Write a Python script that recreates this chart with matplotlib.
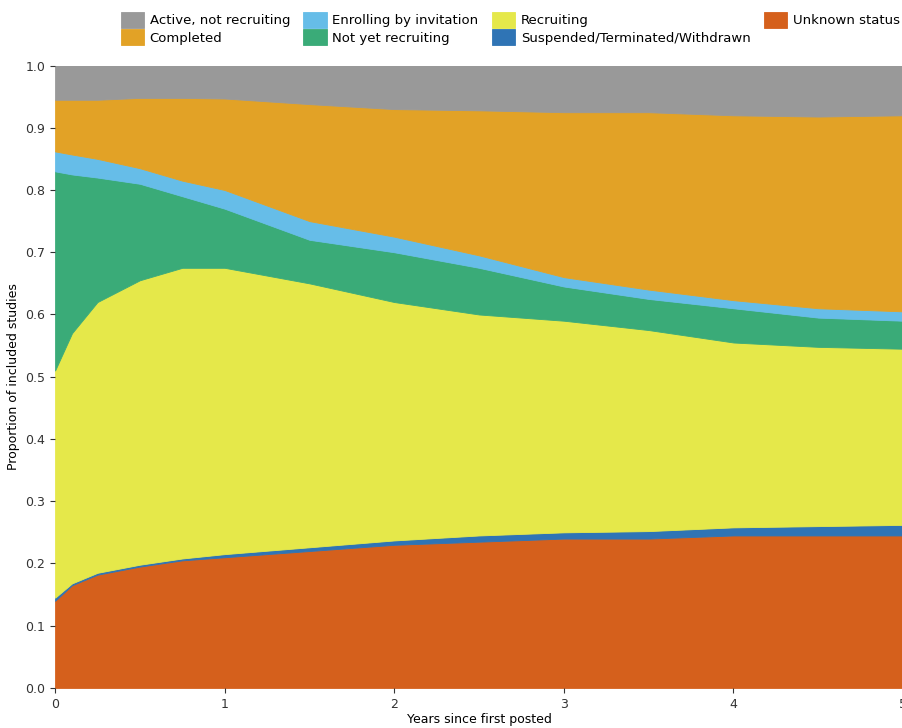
import numpy as np
import matplotlib.pyplot as plt

years = [0, 0.1, 0.25, 0.5, 0.75, 1, 1.5, 2, 2.5, 3, 3.5, 4, 4.5, 5]
# cumulative tops of each band
top_unknown = [0.14, 0.165, 0.182, 0.195, 0.205, 0.21, 0.22, 0.23, 0.235, 0.24, 0.24, 0.245, 0.245, 0.245]
top_suspended = [0.145, 0.168, 0.185, 0.198, 0.208, 0.215, 0.226, 0.237, 0.245, 0.25, 0.252, 0.258, 0.26, 0.262]
top_recruiting = [0.51, 0.57, 0.62, 0.655, 0.675, 0.675, 0.65, 0.62, 0.60, 0.59, 0.575, 0.555, 0.548, 0.545]
top_notyet = [0.83, 0.825, 0.82, 0.81, 0.79, 0.77, 0.72, 0.70, 0.675, 0.645, 0.625, 0.61, 0.595, 0.59]
top_enrolling = [0.862, 0.857, 0.85, 0.835, 0.815, 0.80, 0.75, 0.725, 0.695, 0.66, 0.64, 0.623, 0.61, 0.605]
top_completed = [0.945, 0.945, 0.945, 0.948, 0.948, 0.947, 0.938, 0.93, 0.928, 0.925, 0.925, 0.92, 0.918, 0.92]
top_active = [1.0] * len(years)

labels = ['Unknown status', 'Suspended/Terminated/Withdrawn', 'Recruiting',
          'Not yet recruiting', 'Enrolling by invitation', 'Completed',
          'Active, not recruiting']
colors = ['#d5601c', '#2f74b5', '#e5e84a', '#3aab78', '#66bde8', '#e2a226', '#999999']

tops = np.array([top_unknown, top_suspended, top_recruiting, top_notyet,
                 top_enrolling, top_completed, top_active])
bands = np.diff(np.vstack([np.zeros(len(years)), tops]), axis=0)

fig = plt.figure(figsize=(9.03, 7.28), dpi=100)
ax = fig.add_axes([0.061, 0.055, 0.939, 0.855])
polys = ax.stackplot(years, bands, colors=colors, labels=labels)
for p, c in zip(polys, colors):
    p.set_edgecolor(c)
    p.set_linewidth(0.6)
ax.set_xlim(0, 5)
ax.set_ylim(0, 1)
ax.set_yticks(np.arange(0, 1.01, 0.1))
ax.set_yticklabels([f'{v:.1f}' for v in np.arange(0, 1.01, 0.1)])
ax.tick_params(labelsize=9, colors='#333333')
for s in ax.spines.values():
    s.set_visible(False)
ax.set_xlabel('Years since first posted', fontsize=9, labelpad=2)
ax.set_ylabel('Proportion of included studies', fontsize=9)

order = [6, 5, 4, 3, 2, 1, 0]
handles = [polys[i] for i in order]
fig.legend(handles, [labels[i] for i in order], ncol=4, loc='upper center',
           bbox_to_anchor=(0.565, 1.0), frameon=False, fontsize=9.5,
           handlelength=1.8, handleheight=1.5, columnspacing=1.0,
           labelspacing=0.1, handletextpad=0.4)
fig.savefig('out.png', dpi=100)
